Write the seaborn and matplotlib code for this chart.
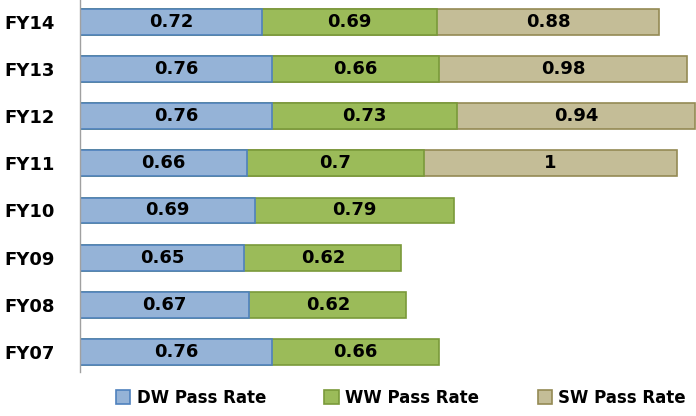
import matplotlib
matplotlib.use("Agg")
import matplotlib.pyplot as plt
import seaborn as sns
import pandas as pd
from matplotlib.patches import Patch

years = ["FY14", "FY13", "FY12", "FY11", "FY10", "FY09", "FY08", "FY07"]
dw_rate = [0.72, 0.76, 0.76, 0.66, 0.69, 0.65, 0.67, 0.76]
ww_rate = [0.69, 0.66, 0.73, 0.70, 0.79, 0.62, 0.62, 0.66]
sw_rate = [0.88, 0.98, 0.94, 1.00, None, None, None, None]
sw_labels = ["0.88", "0.98", "0.94", "1"]

series = ["DW Pass Rate", "WW Pass Rate", "SW Pass Rate"]
fills = ["#95B3D7", "#9BBB59", "#C4BD97"]
edges = ["#4F81BD", "#7A9A3A", "#948A54"]

df = pd.DataFrame({"year": years, "dw": dw_rate, "ww": ww_rate, "sw": sw_rate})
df["c1"] = df["dw"]
df["c2"] = df["dw"] + df["ww"]
df["c3"] = df["c2"] + df["sw"]

sns.set_style("white")
plt.rcParams["font.family"] = ["DejaVu Sans"]
plt.rcParams["text.color"] = "black"
plt.rcParams["ytick.color"] = "black"

fig = plt.figure(figsize=(6.96, 4.16), dpi=100)
ax = fig.add_axes([80 / 696, 44 / 416, 616 / 696, 372 / 416])

# overlay cumulative totals, widest first
sw_df = df.dropna(subset=["sw"])
sns.barplot(data=sw_df, x="c3", y="year", order=years, orient="h", ax=ax,
            color=fills[2], edgecolor=edges[2], linewidth=1.2, width=0.55,
            saturation=1, errorbar=None)
sns.barplot(data=df, x="c2", y="year", order=years, orient="h", ax=ax,
            color=fills[1], edgecolor=edges[1], linewidth=1.2, width=0.55,
            saturation=1, errorbar=None)
sns.barplot(data=df, x="c1", y="year", order=years, orient="h", ax=ax,
            color=fills[0], edgecolor=edges[0], linewidth=1.2, width=0.55,
            saturation=1, errorbar=None)

lab_kw = dict(ha="center", va="center", fontsize=13, fontweight="bold", color="black")
for i, row in df.iterrows():
    ax.text(row["dw"] / 2, i, f"{row['dw']:g}", **lab_kw)
    ax.text(row["dw"] + row["ww"] / 2, i, f"{row['ww']:g}", **lab_kw)
    if pd.notna(row["sw"]):
        ax.text(row["c2"] + row["sw"] / 2, i, sw_labels[i], **lab_kw)

ax.set_xlim(0, 2.435)
ax.set_ylim(7.43, -0.47)
ax.set_xlabel("")
ax.set_ylabel("")
ax.set_xticks([])
ax.tick_params(axis="y", length=0, pad=18)
for lbl in ax.get_yticklabels():
    lbl.set_fontsize(13)
    lbl.set_fontweight("bold")
for s in ["top", "right", "bottom"]:
    ax.spines[s].set_visible(False)
ax.spines["left"].set_color("#A0A0A0")
ax.spines["left"].set_linewidth(1.0)

handles = [Patch(facecolor=f, edgecolor=e, linewidth=1.2, label=s)
           for f, e, s in zip(fills, edges, series)]
fig.legend(handles=handles, loc="center", bbox_to_anchor=(401 / 696, 1 - 398 / 416),
           ncol=3, frameon=False, prop={"size": 12, "weight": "bold"},
           handlelength=0.85, handleheight=0.9, handletextpad=0.4, columnspacing=3.5,
           borderpad=0, borderaxespad=0)

fig.savefig("out.png", dpi=100)
